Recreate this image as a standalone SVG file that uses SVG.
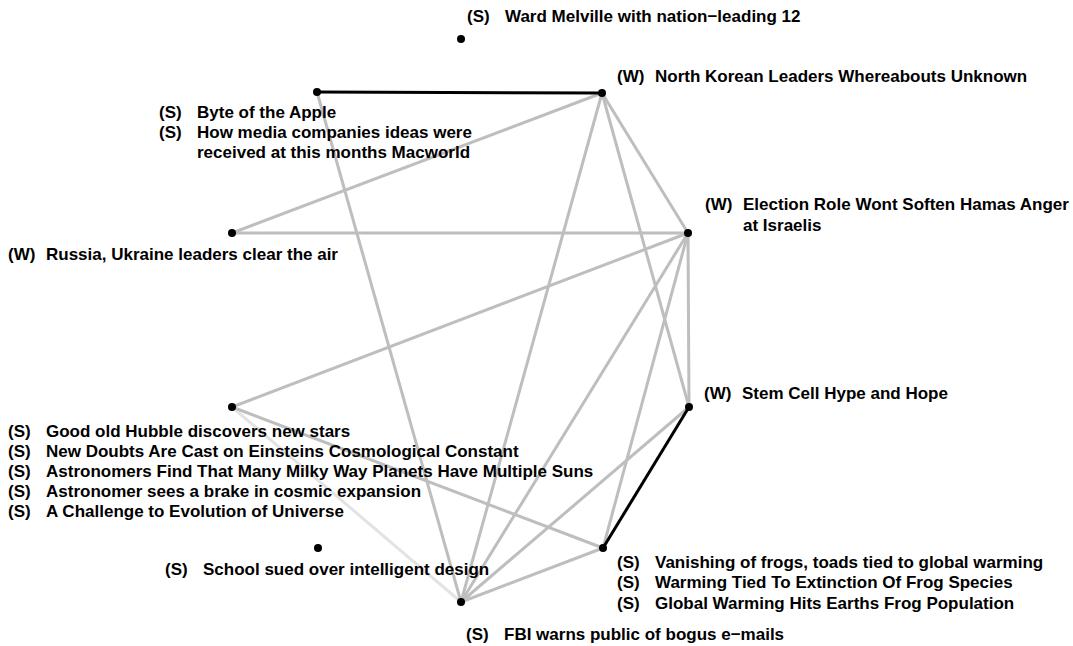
<svg xmlns="http://www.w3.org/2000/svg" width="1073" height="646" viewBox="0 0 1073 646">
<style>
text{font-family:"Liberation Sans",Arial,sans-serif;font-weight:bold;font-size:17px;fill:#000}
.e{stroke:#bebebe;stroke-width:3;fill:none}
.k{stroke:#000;stroke-width:3;fill:none}
.l{stroke:#e3e3e3;stroke-width:3;fill:none}
circle{fill:#000}
</style>
<rect width="1073" height="646" fill="#fff"/>
<g id="connectors">
<line class="l" x1="232" y1="407" x2="461" y2="602"/>
<line class="e" x1="602" y1="93" x2="232" y2="233"/>
<line class="e" x1="232" y1="233" x2="688" y2="233"/>
<line class="e" x1="688" y1="233" x2="232" y2="407"/>
<line class="e" x1="602" y1="93" x2="688" y2="233"/>
<line class="e" x1="602" y1="93" x2="689" y2="407"/>
<line class="e" x1="602" y1="93" x2="461" y2="602"/>
<line class="e" x1="317" y1="92" x2="461" y2="602"/>
<line class="e" x1="688" y1="233" x2="689" y2="407"/>
<line class="e" x1="688" y1="233" x2="461" y2="602"/>
<line class="e" x1="688" y1="233" x2="603" y2="548"/>
<line class="e" x1="689" y1="407" x2="461" y2="602"/>
<line class="e" x1="232" y1="407" x2="603" y2="548"/>
<line class="e" x1="603" y1="548" x2="461" y2="602"/>
<line class="k" x1="317" y1="92" x2="602" y2="93"/>
<line class="k" x1="689" y1="407" x2="603" y2="548"/>
</g>
<g id="n-ward"><circle cx="461" cy="39" r="4"/><text y="22"><tspan x="467">(S)</tspan><tspan x="505">Ward Melville with nation−leading 12</tspan></text></g>
<g id="n-byte"><circle cx="317" cy="92" r="4"/><text y="118"><tspan x="159">(S)</tspan><tspan x="197">Byte of the Apple</tspan></text><text y="138"><tspan x="159">(S)</tspan><tspan x="197">How media companies ideas were</tspan></text><text x="197" y="158">received at this months Macworld</text></g>
<g id="n-nk"><circle cx="602" cy="93" r="4"/><text y="82"><tspan x="617">(W)</tspan><tspan x="655">North Korean Leaders Whereabouts Unknown</tspan></text></g>
<g id="n-election"><circle cx="688" cy="233" r="4"/><text y="210"><tspan x="705">(W)</tspan><tspan x="743">Election Role Wont Soften Hamas Anger</tspan></text><text x="743" y="231">at Israelis</text></g>
<g id="n-russia"><circle cx="232" cy="233" r="4"/><text y="260"><tspan x="8">(W)</tspan><tspan x="46">Russia, Ukraine leaders clear the air</tspan></text></g>
<g id="n-hubble"><circle cx="232" cy="407" r="4"/>
<text y="437"><tspan x="8">(S)</tspan><tspan x="46">Good old Hubble discovers new stars</tspan></text>
<text y="457"><tspan x="8">(S)</tspan><tspan x="46">New Doubts Are Cast on Einsteins Cosmological Constant</tspan></text>
<text y="477"><tspan x="8">(S)</tspan><tspan x="46">Astronomers Find That Many Milky Way Planets Have Multiple Suns</tspan></text>
<text y="497"><tspan x="8">(S)</tspan><tspan x="46">Astronomer sees a brake in cosmic expansion</tspan></text>
<text y="517"><tspan x="8">(S)</tspan><tspan x="46">A Challenge to Evolution of Universe</tspan></text></g>
<g id="n-stem"><circle cx="689" cy="407" r="4"/><text y="399"><tspan x="704">(W)</tspan><tspan x="742">Stem Cell Hype and Hope</tspan></text></g>
<g id="n-frogs"><circle cx="603" cy="548" r="4"/>
<text y="568"><tspan x="617">(S)</tspan><tspan x="655">Vanishing of frogs, toads tied to global warming</tspan></text>
<text y="588"><tspan x="617">(S)</tspan><tspan x="655">Warming Tied To Extinction Of Frog Species</tspan></text>
<text y="609"><tspan x="617">(S)</tspan><tspan x="655">Global Warming Hits Earths Frog Population</tspan></text></g>
<g id="n-school"><circle cx="318" cy="548" r="4"/><text y="575"><tspan x="165">(S)</tspan><tspan x="203">School sued over intelligent design</tspan></text></g>
<g id="n-fbi"><circle cx="461" cy="602" r="4"/><text y="640"><tspan x="466">(S)</tspan><tspan x="504">FBI warns public of bogus e−mails</tspan></text></g>
</svg>
